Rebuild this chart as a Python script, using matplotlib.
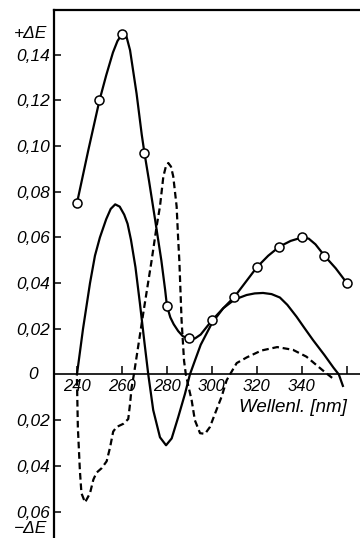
import matplotlib
matplotlib.use('Agg')
import matplotlib.pyplot as plt

# measured points (open circles)
wl_pts = [240, 250, 260, 270, 280, 290, 300, 310, 320, 330, 340, 350, 360]
dE_pts = [0.075, 0.120, 0.149, 0.097, 0.030, 0.016, 0.024, 0.034, 0.047, 0.056, 0.060, 0.052, 0.040]

# drawn curve through the circles
wl_line = [240, 245, 250, 253, 256, 258, 260, 262, 263.6, 266.5, 268.8, 270, 272, 274.7, 277.5,
           279.2, 280, 281.5, 283, 285, 287, 290, 292.5, 295, 300, 305, 310, 315, 320, 325, 330,
           335, 340, 343, 346, 350, 355, 360]
dE_line = [0.075, 0.098, 0.120, 0.131, 0.141, 0.146, 0.149, 0.148, 0.142, 0.123, 0.105, 0.097,
           0.085, 0.068, 0.050, 0.037, 0.030, 0.025, 0.022, 0.019, 0.0168, 0.0155, 0.0158, 0.0175,
           0.0237, 0.029, 0.034, 0.0405, 0.047, 0.052, 0.056, 0.0585, 0.060, 0.0595, 0.057,
           0.052, 0.0465, 0.040]

# solid curve without markers
wl_solid = [240, 242.7, 245.8, 248, 250.2, 253, 255, 257, 259, 261, 262.5, 264, 266, 268, 270,
            271.7, 273.9, 276.9, 279.6, 282.1, 285, 288, 290.2, 292.4, 295, 300, 305, 310, 315.4,
            319, 322.7, 326.5, 330.2, 333.5, 337.6, 341, 344.9, 350, 354, 356.4, 358.2]
dE_solid = [0.0, 0.020, 0.040, 0.052, 0.060, 0.068, 0.0725, 0.0745, 0.0735, 0.070, 0.066, 0.059,
            0.047, 0.031, 0.014, 0.0, -0.0156, -0.0275, -0.031, -0.028, -0.0187, -0.0085, 0.0,
            0.006, 0.013, 0.0225, 0.029, 0.0328, 0.0348, 0.0355, 0.0357, 0.0352, 0.0337, 0.0305,
            0.0253, 0.0205, 0.0151, 0.0085, 0.003, 0.0, -0.005]

# dashed curve
wl_dash = [240, 240.4, 241.3, 242, 243.6, 245.8, 247.3, 248.7, 251, 253.2, 254.7, 256.1, 257.6,
           260.6, 262.8, 263.6, 264.3, 265.3, 269.5, 273.2, 275.4, 276.9, 278.4, 279.5, 280.6,
           281.8, 282.8, 284.3, 285, 285.5, 286.5, 287.6, 288.4, 289.5, 291, 292.4, 294.7, 296.9,
           299.1, 301.3, 304.3, 306.5, 308, 311, 315.5, 322, 329, 336, 342, 349, 354.7]
dE_dash = [-0.002, -0.023, -0.042, -0.052, -0.056, -0.052, -0.046, -0.043, -0.041, -0.038, -0.032,
           -0.025, -0.023, -0.0216, -0.0195, -0.0128, -0.0057, 0.0, 0.027, 0.050, 0.0648, 0.0736,
           0.0867, 0.091, 0.0926, 0.091, 0.0867, 0.0736, 0.059, 0.050, 0.0237, 0.006, 0.0, -0.005,
           -0.0114, -0.020, -0.0257, -0.026, -0.023, -0.0173, -0.0097, -0.0026, 0.0, 0.005,
           0.0075, 0.0105, 0.012, 0.0108, 0.0078, 0.002, -0.0025]

xticks = [240, 260, 280, 300, 320, 340, 360]
xtick_labels = ['240', '260', '280', '300', '320', '340', '']
yticks = [-0.06, -0.04, -0.02, 0.02, 0.04, 0.06, 0.08, 0.10, 0.12, 0.14]
ytick_labels = ['0,06', '0,04', '0,02', '0,02', '0,04', '0,06', '0,08', '0,10', '0,12', '0,14']

plt.rcParams['font.family'] = ['Liberation Sans', 'DejaVu Sans']
plt.rcParams['font.style'] = 'italic'

fig = plt.figure(figsize=(3.6, 5.38), dpi=100)
ax = fig.add_axes([0.15, 0.0, 0.85, 0.9814])

ax.plot(wl_line, dE_line, color='black', lw=1.6, zorder=3)
ax.plot(wl_pts, dE_pts, linestyle='none', marker='o', ms=6.5, mfc='white', mec='black',
        mew=1.1, zorder=4)
ax.plot(wl_solid, dE_solid, color='black', lw=1.6, zorder=3)
ax.plot(wl_dash, dE_dash, color='black', lw=1.6, linestyle=(0, (3, 1.7)), zorder=3)

ax.set_xlim(229.8, 365.8)
ax.set_ylim(-0.0716, 0.1596)

ax.spines['right'].set_visible(False)
ax.spines['bottom'].set_position(('data', 0))
ax.spines['bottom'].set_linewidth(1.2)
ax.spines['top'].set_linewidth(1.6)
ax.spines['left'].set_linewidth(1.6)

ax.set_xticks(xticks)
ax.set_xticklabels(xtick_labels)
ax.set_yticks(yticks)
ax.set_yticklabels(ytick_labels)
ax.tick_params(axis='x', direction='in', length=6, width=1.1, pad=3, labelsize=12)
ax.tick_params(axis='y', direction='in', length=5, width=1.1, pad=3, labelsize=12.5)

ytr = ax.get_yaxis_transform()
ax.text(-0.069, 0.0, '0', transform=ytr, ha='center', va='center', fontsize=12.5)
ax.text(-0.075, 0.1495, '+ΔE', transform=ytr, ha='center', va='center', fontsize=12.5)
ax.text(-0.075, -0.0675, '−ΔE', transform=ytr, ha='center', va='center', fontsize=12.5)
ax.text(0.605, -0.0143, 'Wellenl. [nm]', transform=ytr, ha='left', va='center', fontsize=13.5)

fig.savefig('out.png', dpi=100)
